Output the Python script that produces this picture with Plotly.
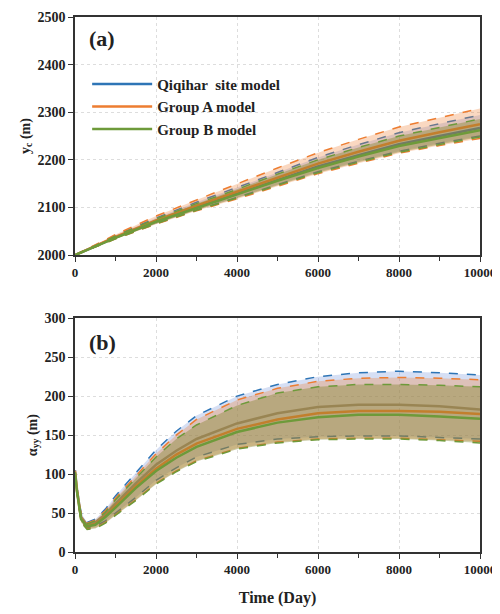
import plotly.graph_objects as go
from plotly.subplots import make_subplots

# panel (a): y_c vs time
days_a = [0, 1000, 2000, 3000, 4000, 5000, 6000, 7000, 8000, 9000, 10000]
site_a = [2000, 2037, 2071, 2101, 2129, 2158, 2186, 2210, 2233, 2250, 2267]
site_a_up = [2000, 2041, 2078, 2111, 2142, 2174, 2205, 2232, 2257, 2276, 2294]
site_a_lo = [2000, 2035, 2066, 2095, 2121, 2148, 2175, 2197, 2218, 2235, 2250]
grpa_a = [2000, 2038, 2073, 2104, 2133, 2163, 2192, 2217, 2240, 2258, 2275]
grpa_a_up = [2000, 2043, 2082, 2116, 2149, 2183, 2215, 2243, 2269, 2289, 2308]
grpa_a_lo = [2000, 2034, 2065, 2093, 2118, 2145, 2171, 2193, 2214, 2230, 2245]
grpb_a = [2000, 2036, 2070, 2099, 2127, 2156, 2183, 2207, 2229, 2246, 2262]
grpb_a_up = [2000, 2040, 2076, 2108, 2138, 2170, 2200, 2226, 2250, 2268, 2286]
grpb_a_lo = [2000, 2034, 2066, 2094, 2120, 2147, 2173, 2195, 2216, 2232, 2248]

# panel (b): alpha_yy vs time
days_b = [0, 50, 150, 300, 500, 750, 1000, 1500, 2000, 2500, 3000, 4000, 5000, 6000, 7000, 8000, 9000, 10000]
site_b = [105, 80, 45, 35, 38, 48, 62, 88, 112, 130, 145, 165, 178, 186, 189, 189, 187, 183]
site_b_up = [105, 82, 50, 38, 42, 55, 72, 102, 131, 155, 175, 200, 215, 225, 230, 232, 230, 227]
site_b_lo = [104, 78, 40, 31, 33, 40, 50, 70, 92, 108, 122, 138, 145, 148, 149, 149, 147, 145]
grpa_b = [103, 78, 43, 33, 36, 46, 59, 84, 107, 125, 139, 158, 170, 178, 181, 181, 180, 177]
grpa_b_up = [104, 80, 48, 37, 41, 53, 69, 98, 126, 150, 170, 195, 210, 219, 223, 224, 223, 221]
grpa_b_lo = [103, 77, 39, 30, 31, 38, 48, 67, 88, 104, 117, 133, 141, 145, 146, 146, 144, 142]
grpb_b = [102, 77, 42, 33, 35, 45, 57, 82, 104, 121, 135, 154, 166, 173, 176, 176, 174, 171]
grpb_b_up = [103, 79, 47, 36, 40, 51, 67, 95, 122, 145, 163, 188, 204, 212, 215, 215, 214, 212]
grpb_b_lo = [102, 76, 38, 29, 30, 37, 47, 66, 87, 103, 116, 132, 140, 144, 145, 145, 143, 140]

BLUE = "#2e75b6"
ORANGE = "#ed7d31"
GREEN = "#6e9a3a"
GRAY = "#8c8c8c"
fills = {BLUE: "rgba(120,150,220,0.30)", ORANGE: "rgba(237,125,49,0.30)", GREEN: "rgba(130,130,40,0.40)"}

FONT = "Liberation Serif"

fig = make_subplots(rows=2, cols=1)


def add_band(x, lo, up, mid, color, mid_color, name, row, legend):
    fig.add_trace(go.Scatter(x=x, y=lo, mode="lines", line=dict(color=color, width=1.5, dash="dash"),
                             showlegend=False, hoverinfo="skip"), row=row, col=1)
    fig.add_trace(go.Scatter(x=x, y=up, mode="lines", line=dict(color=color, width=1.5, dash="dash"),
                             fill="tonexty", fillcolor=fills[color], showlegend=False, hoverinfo="skip"),
                  row=row, col=1)
    fig.add_trace(go.Scatter(x=x, y=mid, mode="lines", line=dict(color=mid_color, width=2.5),
                             name=name, showlegend=legend), row=row, col=1)


add_band(days_a, site_a_lo, site_a_up, site_a, BLUE, BLUE, "Qiqihar  site model", 1, True)
add_band(days_a, grpa_a_lo, grpa_a_up, grpa_a, ORANGE, ORANGE, "Group A model", 1, True)
add_band(days_a, grpb_a_lo, grpb_a_up, grpb_a, GREEN, GREEN, "Group B model", 1, True)
add_band(days_b, site_b_lo, site_b_up, site_b, BLUE, GRAY, "Qiqihar  site model", 2, False)
add_band(days_b, grpa_b_lo, grpa_b_up, grpa_b, ORANGE, ORANGE, "Group A model", 2, False)
add_band(days_b, grpb_b_lo, grpb_b_up, grpb_b, GREEN, GREEN, "Group B model", 2, False)

tick_font = dict(family=FONT, size=14, color="#222", weight="bold")
axis_style = dict(showline=True, linecolor="#333", linewidth=1.5, mirror=True, ticks="outside",
                  ticklen=5, tickcolor="#333", showgrid=True, gridcolor="#dddddd", griddash="dot",
                  zeroline=False, tickfont=tick_font, tickformat="d", automargin=False)
for r in (1, 2):
    fig.update_xaxes(range=[0, 10000], dtick=2000, minor=dict(dtick=1000, ticks="outside", ticklen=4,
                     tickcolor="#333"), **axis_style, row=r, col=1)
fig.update_xaxes(tickfont=dict(family=FONT, size=13, color="#222", weight="bold"))
fig.update_xaxes(title=dict(text="<b>Time (Day)</b>", font=dict(family=FONT, size=16, color="#222")), row=2, col=1)
fig.update_yaxes(range=[2000, 2500], dtick=100, domain=[0.555, 1.0], **axis_style,
                 title=dict(text="<b>y<sub>c</sub> (m)</b>", font=dict(family=FONT, size=14, color="#222"), standoff=4),
                 row=1, col=1)
fig.update_yaxes(range=[0, 300], dtick=50, domain=[0.0, 0.437], **axis_style,
                 title=dict(text="<b>α<sub>yy</sub> (m)</b>", font=dict(family=FONT, size=14, color="#222"), standoff=4),
                 row=2, col=1)

fig.add_annotation(text="<b>(a)</b>", x=0.03, y=0.97, xref="x domain", yref="y domain", showarrow=False,
                   xanchor="left", yanchor="top", font=dict(family=FONT, size=22, color="#222"))
fig.add_annotation(text="<b>(b)</b>", x=0.03, y=0.96, xref="x2 domain", yref="y2 domain", showarrow=False,
                   xanchor="left", yanchor="top", font=dict(family=FONT, size=22, color="#222"))

fig.update_layout(
    width=500, height=614, margin=dict(l=67, r=28, t=9, b=70),
    plot_bgcolor="white", paper_bgcolor="white",
    legend=dict(x=0.03, y=0.905, xanchor="left", yanchor="top", bgcolor="rgba(0,0,0,0)", traceorder="normal",
                font=dict(family=FONT, size=15, color="#222", weight="bold"), tracegroupgap=0, itemwidth=60),
)

fig.write_html("out.html")
